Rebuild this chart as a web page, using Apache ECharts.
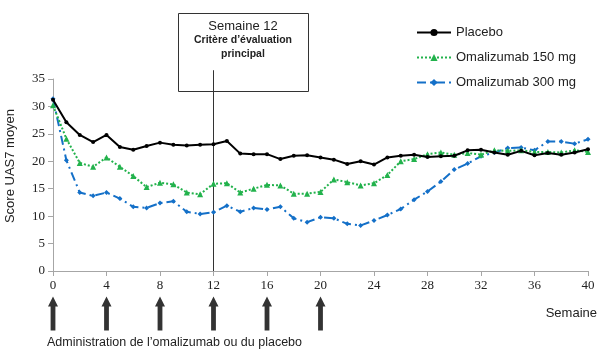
<!DOCTYPE html>
<html>
<head>
<meta charset="utf-8">
<script src="https://cdn.jsdelivr.net/npm/echarts@6/dist/echarts.min.js"></script>
<style>html,body{margin:0;padding:0;background:#fff;}#c{width:608px;height:358px;}</style>
</head>
<body>
<div id="c"></div>
<script>
const weeks = [0,1,2,3,4,5,6,7,8,9,10,11,12,13,14,15,16,17,18,19,20,21,22,23,24,25,26,27,28,29,30,31,32,33,34,35,36,37,38,39,40];
const placebo = [31.2,27.1,24.8,23.5,24.8,22.6,22.1,22.8,23.4,23.0,22.9,23.0,23.1,23.7,21.4,21.3,21.3,20.4,21.0,21.1,20.7,20.3,19.5,20.0,19.4,20.7,21.0,21.2,20.8,20.9,21.0,22.0,22.1,21.6,21.2,21.9,21.1,21.5,21.2,21.6,22.2];
const oma150 = [30.2,24.1,19.7,19.0,20.7,19.0,17.3,15.3,16.1,15.8,14.3,14.0,15.9,16.0,14.3,15.0,15.7,15.6,14.1,14.1,14.4,16.7,16.2,15.6,16.0,17.5,20.0,20.4,21.3,21.6,21.2,21.5,21.2,22.0,21.9,22.0,21.7,21.7,21.6,22.0,21.7];
const oma300 = [31.4,20.2,14.3,13.7,14.3,13.2,11.7,11.5,12.4,12.7,10.8,10.4,10.7,11.9,10.8,11.5,11.2,11.7,9.6,8.9,9.8,9.6,8.6,8.3,9.2,10.2,11.3,13.0,14.5,16.3,18.5,19.6,20.9,21.6,22.4,22.5,22.0,23.6,23.6,23.2,24.0];
const seriesNames = ['Placebo','Omalizumab 150 mg','Omalizumab 300 mg'];
const arrowWeeks = [0,4,8,12,16,20];
const endpointWeek = 12;
const endpointTop = 36.6;

const pairs = arr => weeks.map((w,i) => [w, arr[i]]);
const chart = echarts.init(document.getElementById('c'), null, {renderer:'canvas'});
const axisGray = '#a6a6a6';
const serif = '"Liberation Serif", "DejaVu Serif", serif';
const sans = '"Liberation Sans", Arial, sans-serif';

chart.setOption({
  animation: false,
  backgroundColor: '#fff',
  grid: [
    {left: 53, right: 20, top: 79, bottom: 87, containLabel: false},
    {left: 53, right: 20, top: 296, height: 35, containLabel: false}
  ],
  legend: {
    orient: 'vertical', left: 411, top: 21, itemWidth: 34, itemHeight: 9, itemGap: 12,
    textStyle: {fontFamily: sans, fontSize: 13, color: '#222'},
    data: seriesNames
  },
  xAxis: [
    {type: 'value', gridIndex: 0, min: 0, max: 40, interval: 4,
     axisLine: {lineStyle: {color: axisGray, width: 1}},
     axisTick: {show: true, length: 5, lineStyle: {color: axisGray}},
     axisLabel: {fontFamily: serif, fontSize: 13, color: '#222', margin: 8},
     splitLine: {show: false}},
    {type: 'value', gridIndex: 1, min: 0, max: 40, show: false}
  ],
  yAxis: [
    {type: 'value', gridIndex: 0, min: 0, max: 35, interval: 5,
     axisLine: {show: true, lineStyle: {color: axisGray, width: 1}},
     axisTick: {show: true, length: 5, lineStyle: {color: axisGray}},
     axisLabel: {fontFamily: serif, fontSize: 13, color: '#222', margin: 8},
     splitLine: {show: false}},
    {type: 'value', gridIndex: 1, min: 0, max: 1, show: false}
  ],
  series: [
    {name: 'endpoint', type: 'line', data: [[endpointWeek, 0], [endpointWeek, endpointTop]],
     clip: false, symbol: 'none', silent: true,
     lineStyle: {color: '#333', width: 1}, z: 1},
    {name: seriesNames[0], type: 'line', data: pairs(placebo),
     symbol: 'circle', symbolSize: 4,
     itemStyle: {color: '#000'}, lineStyle: {color: '#000', width: 2},
     z: 4},
    {name: seriesNames[1], type: 'line', data: pairs(oma150),
     symbol: 'triangle', symbolSize: 6,
     itemStyle: {color: '#22b24c'}, lineStyle: {color: '#22b24c', width: 2, type: 'dotted'},
     z: 3},
    {name: seriesNames[2], type: 'line', data: pairs(oma300),
     symbol: 'diamond', symbolSize: 5,
     itemStyle: {color: '#1470c8'}, lineStyle: {color: '#1470c8', width: 2, type: [9,4,2,4]},
     z: 2},
    {name: 'arrows', type: 'scatter', xAxisIndex: 1, yAxisIndex: 1,
     data: arrowWeeks.map(w => [w, 0.5]),
     symbol: 'path://M5,0 L10,10 L7.4,10 L7.4,34 L2.6,34 L2.6,10 L0,10 Z',
     symbolSize: [10, 34], itemStyle: {color: '#000'}, silent: true}
  ],
  graphic: [
    {type: 'rect', left: 178, top: 13, shape: {width: 130, height: 78},
     style: {fill: 'rgba(0,0,0,0)', stroke: '#333', lineWidth: 1}, z: 10},
    {type: 'text', x: 243, y: 26.5, style: {text: 'Semaine 12', font: '13px ' + sans, fill: '#222', align: 'center', verticalAlign: 'middle'}, z: 11},
    {type: 'text', x: 243, y: 40.5, style: {text: 'Critère d\u2019évaluation', font: 'bold 10.5px ' + sans, fill: '#222', align: 'center', verticalAlign: 'middle'}, z: 11},
    {type: 'text', x: 243, y: 54.5, style: {text: 'principal', font: 'bold 10.5px ' + sans, fill: '#222', align: 'center', verticalAlign: 'middle'}, z: 11},
    {type: 'text', x: 10, y: 166, rotation: Math.PI/2, style: {text: 'Score UAS7 moyen', font: '13px ' + sans, fill: '#222', align: 'center', verticalAlign: 'middle'}},
    {type: 'text', x: 597, y: 313, style: {text: 'Semaine', font: '13px ' + sans, fill: '#222', align: 'right', verticalAlign: 'middle'}},
    {type: 'text', x: 47, y: 343, style: {text: 'Administration de l\u2019omalizumab ou du placebo', font: '12.5px ' + sans, fill: '#222', align: 'left', verticalAlign: 'middle'}}
  ]
});
</script>
</body>
</html>
